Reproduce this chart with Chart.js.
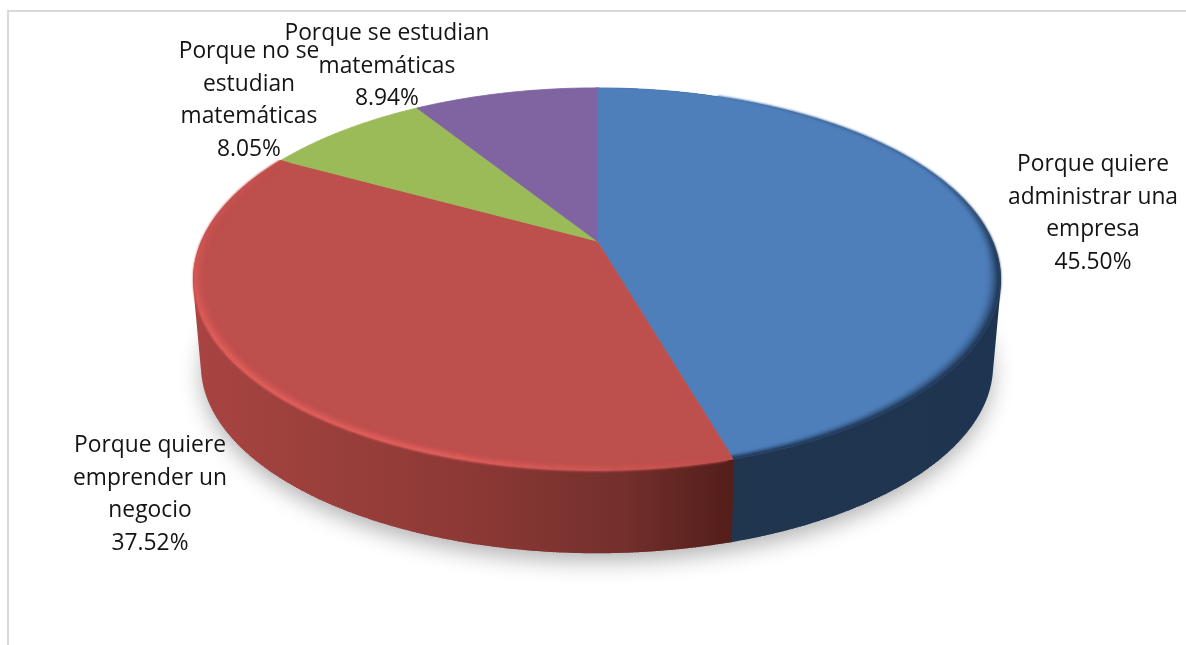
<!DOCTYPE html>
<html lang="es">
<head>
<meta charset="utf-8">
<title>Motivos</title>
<script src="https://cdn.jsdelivr.net/npm/chart.js@4"></script>
<style>
  html, body { margin: 0; padding: 0; background: #fff; overflow: hidden; }
  #wrap { position: relative; width: 1186px; height: 645px; }
  #frame { position: absolute; left: 7px; top: 10px; right: 0; bottom: 0;
           border-left: 2px solid #d9d9d9; border-top: 2px solid #d9d9d9; }
  canvas { position: absolute; left: 0; top: 0; }
</style>
</head>
<body>
<div id="wrap">
  <div id="frame"></div>
  <canvas id="pie" width="1186" height="645"></canvas>
</div>
<script>
const categories = [
  ["Porque quiere", "administrar una", "empresa"],
  ["Porque quiere", "emprender un", "negocio"],
  ["Porque no se", "estudian", "matemáticas"],
  ["Porque se estudian", "matemáticas"]
];
const shares = [45.50, 37.52, 8.05, 8.94];
const faceColors = ["#4e7fbb", "#bd4f4c", "#9bbb59", "#8064a2"];

// label block centres (x) and centre of the first line (y)
const labelX = [1093, 150, 249, 387];
const labelY = [164.5, 445.5, 51.5, 33.5];
const LINE_HEIGHT = 32.7;

// tilt of the disc: the circle of the pie is seen in perspective
const TILT = { sx: 2.582, sy: 1.2, k: 0.199, depth: 87.6, shrink: 0.98 };

// wall shading, left to right across the canvas
const blueWall = [[730, "#20364f"], [1002, "#1f3450"]];
const redWall = [[193, "#a84442"], [330, "#9a3f3b"], [480, "#8b3835"], [620, "#74302c"], [730, "#541e1b"]];
const wallStops = [blueWall, redWall];

const TOP = { radius: 1, scale: 1, drop: 0 };
const BOTTOM = { radius: 1, scale: TILT.shrink, drop: TILT.depth };

function project(arc, angle, level) {
  const u = Math.cos(angle), v = Math.sin(angle);
  const w = 1 - TILT.k * v;
  const r = arc.outerRadius * level.radius;
  return {
    x: arc.x + r * TILT.sx * u / w * level.scale,
    y: arc.y + r * TILT.sy * v / w * level.scale + level.drop
  };
}

function traceArc(ctx, arc, from, to, level, move) {
  const steps = Math.max(2, Math.ceil(Math.abs(to - from) / 0.01));
  for (let i = 0; i <= steps; i++) {
    const p = project(arc, from + (to - from) * i / steps, level);
    if (i === 0 && move) ctx.moveTo(p.x, p.y); else ctx.lineTo(p.x, p.y);
  }
}

function hexRgb(hex) {
  return [1, 3, 5].map(i => parseInt(hex.substr(i, 2), 16));
}
function mix(a, b, t) {
  return "rgb(" + a.map((c, i) => Math.round(c + (b[i] - c) * t)).join(",") + ")";
}
function clamp01(t) { return Math.max(0, Math.min(1, t)); }

// bevel strength around the rim, angle in radians measured from 3 o'clock.
// the dark band on the blue slice is a hairline at the back and widens to the right
function blueRim(angle, t) {
  const deg = angle * 180 / Math.PI;
  let band = 0.1 + 0.9 * clamp01((deg + 30) / 40);
  if (deg > 40) band = 1 - 0.4 * clamp01((deg - 40) / 35);
  const inner = clamp01((t - (1 - band)) / band);
  return (0.3 + 0.7 * clamp01((deg + 25) / 30)) * clamp01((deg + 70) / 25) * Math.pow(inner, 1.6);
}
function redRim(angle, t) {
  const deg = angle * 180 / Math.PI;
  let s = clamp01((deg - 74) / 35);
  if (deg > 150) s = 0.3 + 0.7 * clamp01((185 - deg) / 35);
  if (deg > 185) s = 0.3 * clamp01((225 - deg) / 40);
  return s * t * t * 0.85;
}

function drawBevel(ctx, arc, index) {
  const rimColor = index === 0 ? hexRgb("#1f3552") : hexRgb("#e9625f");
  const strength = index === 0 ? blueRim : redRim;
  const base = hexRgb(faceColors[index]);
  const layer = document.createElement("canvas");
  layer.width = ctx.canvas.width;
  layer.height = ctx.canvas.height;
  const lc = layer.getContext("2d");
  lc.lineWidth = 2.4;
  const rings = 10;
  const n = Math.ceil((arc.endAngle - arc.startAngle) / 0.012);
  for (let ring = 0; ring <= rings; ring++) {
    const t = ring / rings;
    const level = { radius: 0.965 + 0.034 * t, scale: 1, drop: 0 };
    for (let i = 0; i < n; i++) {
      const a0 = arc.startAngle + (arc.endAngle - arc.startAngle) * i / n;
      const a1 = arc.startAngle + (arc.endAngle - arc.startAngle) * (i + 1.3) / n;
      const alpha = strength(a0, t);
      if (alpha < 0.01) continue;
      const p0 = project(arc, a0, level), p1 = project(arc, a1, level);
      lc.strokeStyle = mix(base, rimColor, alpha);
      lc.beginPath();
      lc.moveTo(p0.x, p0.y);
      lc.lineTo(p1.x, p1.y);
      lc.stroke();
    }
  }
  // keep the soft edge inside the slice's wedge, it may spill over the wall
  const wide = { radius: 1.03, scale: 1, drop: 0 };
  ctx.save();
  ctx.beginPath();
  ctx.moveTo(arc.x, arc.y);
  traceArc(ctx, arc, arc.startAngle, arc.endAngle, wide, false);
  ctx.closePath();
  ctx.clip();
  ctx.filter = "blur(1px)";
  ctx.drawImage(layer, 0, 0);
  ctx.restore();
}

function drawWall(ctx, arc, stops) {
  const grad = ctx.createLinearGradient(193, 0, 1002, 0);
  stops.forEach(([x, c]) => grad.addColorStop(clamp01((x - 193) / 809), c));
  ctx.fillStyle = grad;
  ctx.strokeStyle = grad;
  ctx.lineWidth = 2;
  ctx.beginPath();
  traceArc(ctx, arc, arc.startAngle, arc.endAngle, TOP, true);
  traceArc(ctx, arc, arc.endAngle, arc.startAngle, BOTTOM, false);
  ctx.closePath();
  ctx.fill();
  // vertical strokes close the silhouette between the two rims at the far sides
  const n = Math.ceil((arc.endAngle - arc.startAngle) / 0.006);
  ctx.beginPath();
  for (let i = 0; i <= n; i++) {
    const a = arc.startAngle + (arc.endAngle - arc.startAngle) * i / n;
    const p = project(arc, a, TOP), q = project(arc, a, BOTTOM);
    ctx.moveTo(p.x, p.y);
    ctx.lineTo(q.x, q.y);
  }
  ctx.stroke();
}

const disc3d = {
  id: "disc3d",
  beforeDatasetsDraw(chart) {
    const ctx = chart.ctx;
    const arcs = chart.getDatasetMeta(0).data;
    const first = arcs[0];

    // ground shadow under the lower rim
    ctx.save();
    ctx.shadowColor = "rgba(0,0,0,0.3)";
    ctx.shadowBlur = 22;
    ctx.shadowOffsetX = 0;
    ctx.shadowOffsetY = 8;
    ctx.fillStyle = "#fff";
    ctx.beginPath();
    traceArc(ctx, first, 0, Math.PI * 2, BOTTOM, true);
    ctx.closePath();
    ctx.fill();
    ctx.restore();

    // walls first, the face goes over the hidden back part
    drawWall(ctx, arcs[0], wallStops[0]);
    drawWall(ctx, arcs[1], wallStops[1]);

    arcs.forEach((arc, i) => {
      ctx.fillStyle = faceColors[i];
      ctx.strokeStyle = faceColors[i];
      ctx.lineWidth = 0.8;
      ctx.beginPath();
      ctx.moveTo(arc.x, arc.y);
      traceArc(ctx, arc, arc.startAngle, arc.endAngle, TOP, false);
      ctx.closePath();
      ctx.fill();
      ctx.stroke();
    });
    drawBevel(ctx, arcs[0], 0);
    drawBevel(ctx, arcs[1], 1);

    // the built-in flat arcs are replaced by the disc above
    return false;
  },
  afterDraw(chart) {
    const ctx = chart.ctx;
    ctx.save();
    ctx.fillStyle = "#141414";
    ctx.font = "22.8px 'Open Sans'";
    ctx.textAlign = "center";
    ctx.textBaseline = "middle";
    categories.forEach((lines, i) => {
      const text = lines.concat(shares[i].toFixed(2) + "%");
      text.forEach((line, n) => ctx.fillText(line, labelX[i], labelY[i] + n * LINE_HEIGHT));
    });
    ctx.restore();
  }
};

new Chart(document.getElementById("pie"), {
  type: "pie",
  data: {
    labels: categories.map(c => c.join(" ")),
    datasets: [{ data: shares, backgroundColor: faceColors, borderWidth: 0 }]
  },
  options: {
    responsive: false,
    animation: false,
    events: [],
    layout: { padding: { left: 8, right: 0, top: 88, bottom: 251 } },
    plugins: { legend: { display: false }, tooltip: { enabled: false } }
  },
  plugins: [disc3d]
});
</script>
</body>
</html>
